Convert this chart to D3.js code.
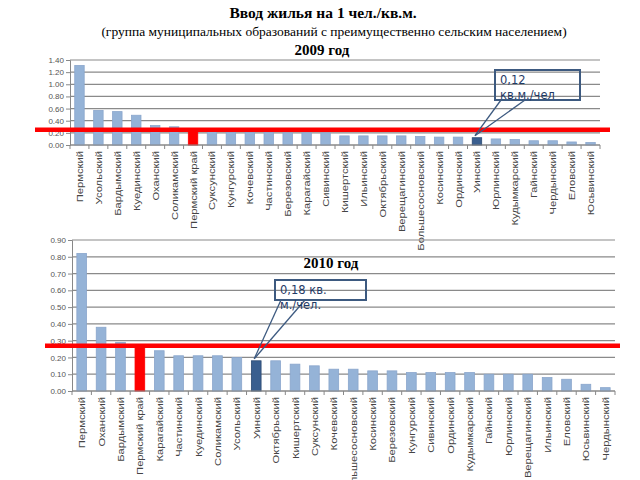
<!DOCTYPE html>
<html>
<head>
<meta charset="utf-8">
<script src="https://cdn.jsdelivr.net/npm/d3@7"></script>
<style>
  body { margin: 0; background: #fff; }
  svg { display: block; }
  .title { font-family: "Liberation Serif", serif; fill: #000; }
  .tick text { font-family: "Liberation Sans", sans-serif; }
</style>
</head>
<body>
<svg id="chart" width="640" height="480"></svg>
<script>
// 2009
var names2009 = ["Пермский", "Усольский", "Бардымский", "Куединский", "Оханский", "Соликамский",
  "Пермский край", "Суксунский", "Кунгурский", "Кочевский", "Частинский", "Березовский",
  "Карагайский", "Сивинский", "Кишертский", "Ильинский", "Октябрьский", "Верещагинский",
  "Большесосновский", "Косинский", "Ординский", "Уинский", "Юрлинский", "Кудымкарский",
  "Гайнский", "Чердынский", "Еловский", "Юсьвинский"];
var values2009 = [1.31, 0.57, 0.55, 0.49, 0.32, 0.30, 0.25, 0.22, 0.21, 0.21, 0.21, 0.20,
  0.20, 0.20, 0.15, 0.15, 0.15, 0.15, 0.14, 0.13, 0.13, 0.12, 0.10, 0.09,
  0.07, 0.07, 0.05, 0.04];
var ticks2009 = [0, 0.2, 0.4, 0.6, 0.8, 1.0, 1.2, 1.4];

// 2010
var names2010 = ["Пермский", "Оханский", "Бардымский", "Пермский край", "Карагайский", "Частинский",
  "Куединский", "Соликамский", "Усольский", "Уинский", "Октябрьский", "Кишертский",
  "Суксунский", "Кочевский", "Большесосновский", "Косинский", "Березовский", "Кунгурский",
  "Сивинский", "Ординский", "Кудымкарский", "Гайнский", "Юрлинский", "Верещагинский",
  "Ильинский", "Еловский", "Юсьвинский", "Чердынский"];
var values2010 = [0.82, 0.38, 0.29, 0.27, 0.24, 0.21, 0.21, 0.21, 0.20, 0.18, 0.18, 0.16,
  0.15, 0.13, 0.13, 0.12, 0.12, 0.11, 0.11, 0.11, 0.11, 0.10, 0.10, 0.10,
  0.08, 0.07, 0.04, 0.02];
var ticks2010 = [0, 0.1, 0.2, 0.3, 0.4, 0.5, 0.6, 0.7, 0.8, 0.9];

var svg = d3.select('#chart');

svg.append('text').attr('class', 'title')
  .attr('x', 323).attr('y', 18).attr('text-anchor', 'middle')
  .style('font-size', '15.5px').style('font-weight', 'bold')
  .text('Ввод жилья на 1 чел./кв.м.');
svg.append('text').attr('class', 'title')
  .attr('x', 334).attr('y', 36).attr('text-anchor', 'middle')
  .style('font-size', '13.5px')
  .text('(группа муниципальных образований с преимущественно сельским населением)');
svg.append('text').attr('class', 'title')
  .attr('x', 322).attr('y', 55).attr('text-anchor', 'middle')
  .style('font-size', '15px').style('font-weight', 'bold')
  .text('2009 год');

function drawChart(opt) {
  var names = opt.names, values = opt.values;
  var data = names.map(function(n, i) { return { name: n, value: values[i] }; });

  var x = d3.scaleBand().domain(names).range([opt.left, opt.right]).paddingInner(0.5).paddingOuter(0.25);
  var y = d3.scaleLinear().domain([0, opt.max]).range([opt.bottom, opt.top]);

  var g = svg.append('g');

  // grid
  g.selectAll('line.grid')
    .data(opt.ticks)
    .enter().append('line')
    .attr('class', 'grid')
    .attr('x1', opt.left).attr('x2', opt.right)
    .attr('y1', function(d) { return y(d); })
    .attr('y2', function(d) { return y(d); })
    .style('stroke', '#8a8a8a')
    .style('stroke-width', 1.2);

  // y axis
  var yAxis = g.append('g')
    .attr('transform', 'translate(' + opt.left + ',0)')
    .call(d3.axisLeft(y).tickValues(opt.ticks).tickFormat(d3.format('.2f')).tickSize(4).tickPadding(2));
  yAxis.select('.domain').style('stroke', '#888');
  yAxis.selectAll('.tick line').style('stroke', '#888');
  yAxis.selectAll('.tick text').style('font-size', '8px').style('fill', '#555');

  // bars
  g.selectAll('rect.bar')
    .data(data)
    .enter().append('rect')
    .attr('class', 'bar')
    .attr('x', function(d) { return x(d.name); })
    .attr('width', x.bandwidth())
    .attr('y', function(d) { return y(d.value); })
    .attr('height', function(d) { return opt.bottom - y(d.value); })
    .style('fill', function(d) {
      if (d.name == 'Пермский край') return '#ff0000';
      if (d.name == 'Уинский') return '#3a5f8f';
      return '#95b3d7';
    })
    .style('stroke', function(d) {
      if (d.name == 'Пермский край') return '#ff0000';
      if (d.name == 'Уинский') return '#2c4a72';
      return '#8aa6cc';
    })
    .style('stroke-width', 0.8);

  // x axis: baseline + ticks at band edges
  g.append('line')
    .attr('x1', opt.left).attr('x2', opt.right)
    .attr('y1', opt.bottom).attr('y2', opt.bottom)
    .style('stroke', '#888');
  var step = x.step();
  g.selectAll('line.xtick')
    .data(d3.range(names.length + 1))
    .enter().append('line')
    .attr('x1', function(i) { return opt.left + i * step; })
    .attr('x2', function(i) { return opt.left + i * step; })
    .attr('y1', opt.bottom).attr('y2', opt.bottom + 4)
    .style('stroke', '#888');

  // labels are tall and narrow in the original, so stretch them along the text
  g.selectAll('text.xlab')
    .data(data)
    .enter().append('text')
    .attr('class', 'xlab')
    .attr('transform', function(d) {
      return 'translate(' + (x(d.name) + x.bandwidth() / 2 + 3.5) + ',' + (opt.bottom + 6) + ') rotate(-90) scale(1.18,1)';
    })
    .attr('text-anchor', 'end')
    .style('font-family', '"Liberation Sans", sans-serif')
    .style('font-size', '9.5px')
    .style('fill', '#444')
    .text(function(d) { return d.name; });

  // red average line
  var avg = values[names.indexOf('Пермский край')];
  g.append('line')
    .attr('x1', opt.lineFrom).attr('x2', opt.lineTo)
    .attr('y1', y(avg)).attr('y2', y(avg))
    .style('stroke', '#ff0000')
    .style('stroke-width', 4.5);

  // callout
  var hi = names.indexOf('Уинский');
  var px = x(names[hi]) + x.bandwidth() / 2 - 2;
  var py = y(values[hi]) - 2;
  var b = opt.box;
  g.append('line').attr('x1', b.x + 6).attr('y1', b.y + b.h).attr('x2', px).attr('y2', py)
    .style('stroke', '#3d5a80').style('stroke-width', 1.3);
  g.append('line').attr('x1', b.x + 30).attr('y1', b.y + b.h).attr('x2', px).attr('y2', py)
    .style('stroke', '#3d5a80').style('stroke-width', 1.3);
  g.append('rect')
    .attr('x', b.x).attr('y', b.y).attr('width', b.w).attr('height', b.h)
    .style('fill', 'none').style('stroke', '#3d5a80').style('stroke-width', 2);
  b.lines.forEach(function(t, i) {
    g.append('text')
      .attr('x', b.x + 5).attr('y', b.y + b.first + i * 15)
      .style('font-family', '"DejaVu Sans", sans-serif')
      .style('font-size', '11.5px')
      .style('fill', '#1f3a66')
      .text(t);
  });
}

drawChart({
  names: names2009, values: values2009, ticks: ticks2009, max: 1.4,
  left: 70, right: 600, top: 60, bottom: 145,
  lineFrom: 35, lineTo: 610,
  box: { x: 495, y: 70, w: 85, h: 30, first: 14, lines: ['0,12', 'кв.м./чел'] }
});

drawChart({
  names: names2010, values: values2010, ticks: ticks2010, max: 0.9,
  left: 72, right: 615, top: 240, bottom: 391,
  lineFrom: 45, lineTo: 620,
  box: { x: 275, y: 280, w: 91, h: 20, first: 14, lines: ['0,18 кв.', 'м./чел.'] }
});

svg.append('text').attr('class', 'title')
  .attr('x', 331).attr('y', 268).attr('text-anchor', 'middle')
  .style('font-size', '15px').style('font-weight', 'bold')
  .text('2010 год');
</script>
</body>
</html>
